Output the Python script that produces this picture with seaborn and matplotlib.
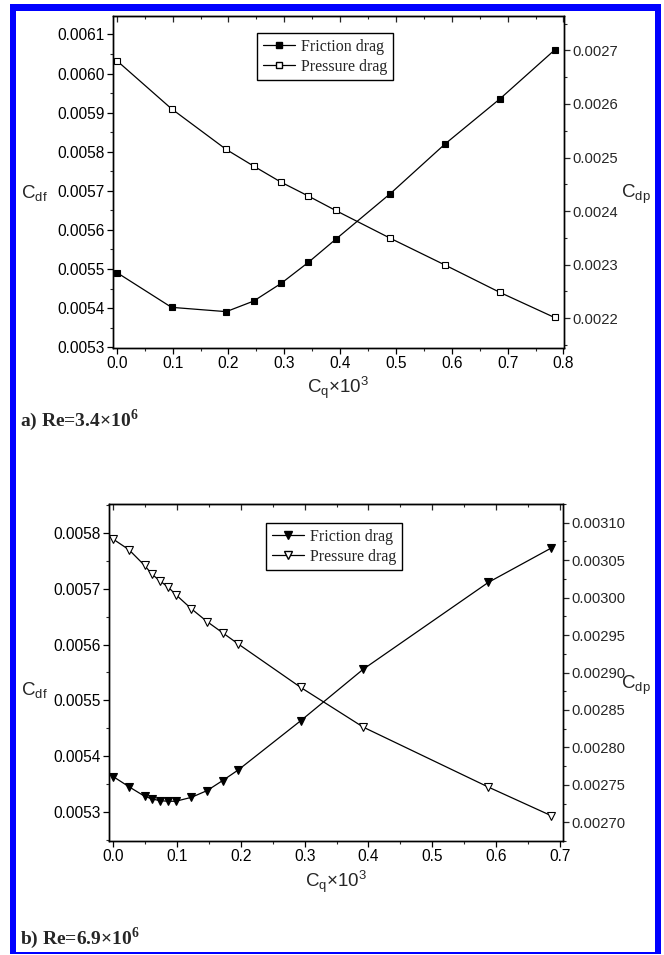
import matplotlib
matplotlib.use("Agg")
import matplotlib.pyplot as plt
from matplotlib.patches import Rectangle
from matplotlib.ticker import MultipleLocator, AutoMinorLocator, FormatStrFormatter
from matplotlib.lines import Line2D
import seaborn as sns
import pandas as pd

# ---- data: (a) Re = 3.4e6 ----
cq_a = [0.0, 0.098, 0.196, 0.245, 0.294, 0.343, 0.392, 0.490, 0.588, 0.686, 0.784]
cdf_a = [0.005491, 0.005402, 0.005391, 0.005418, 0.005463, 0.005517,
         0.005576, 0.005693, 0.005820, 0.005935, 0.006060]
cdp_a = [0.002681, 0.002591, 0.002515, 0.002484, 0.002454, 0.002428,
         0.002401, 0.002349, 0.002299, 0.002248, 0.002201]

# ---- data: (b) Re = 6.9e6 ----
cq_b = [0.0, 0.0245, 0.049, 0.061, 0.0735, 0.086, 0.098, 0.1225, 0.147,
        0.1715, 0.196, 0.294, 0.392, 0.588, 0.686]
cdf_b = [0.005364, 0.005346, 0.005329, 0.005324, 0.005321, 0.005320, 0.005320,
         0.005327, 0.005339, 0.005357, 0.005376, 0.005464, 0.005556, 0.005711, 0.005772]
cdp_b = [0.003078, 0.003064, 0.003043, 0.003031, 0.003022, 0.003014, 0.003004,
         0.002985, 0.002968, 0.002953, 0.002938, 0.002880, 0.002827, 0.002747, 0.002709]

legend_labels = ["Friction drag", "Pressure drag"]
panel_titles = [r"a) Re=3.4×10$^{\mathbf{6}}$", r"b) Re=6.9×10$^{\mathbf{6}}$"]

sns.set_style("ticks")
plt.rcParams["font.family"] = ["Liberation Sans", "DejaVu Sans"]
plt.rcParams["mathtext.fontset"] = "custom"
plt.rcParams["mathtext.rm"] = "Liberation Sans"
plt.rcParams["mathtext.it"] = "Liberation Sans"
plt.rcParams["mathtext.bf"] = "Liberation Serif:bold"

W, H = 664, 955
fig = plt.figure(figsize=(W / 100, H / 100), dpi=100)
fig.patch.set_facecolor("white")

# blue page frame
fig.patches.append(Rectangle((10 / W, 1 - 954 / H), 651 / W, 950 / H,
                             transform=fig.transFigure, facecolor="#0000ff",
                             edgecolor="none", zorder=-10))
fig.patches.append(Rectangle((16 / W, 1 - 952 / H), 639 / W, 941 / H,
                             transform=fig.transFigure, facecolor="white",
                             edgecolor="none", zorder=-9))


def px_box(l, t, r, b):
    return [l / W, 1 - b / H, (r - l) / W, (b - t) / H]


def draw_panel(rect, cq, cdf, cdp, marker_f, marker_p, msize, xlim, ylim_l, ylim_r,
               lstep, rstep, rfmt, leg_anchor, cdf_y, cdp_y, xlab_y,
               title, title_y):
    ax = fig.add_axes(rect)
    ax2 = ax.twinx()
    df = pd.DataFrame({"cq": cq, "cdf": cdf, "cdp": cdp})

    sns.lineplot(data=df, x="cq", y="cdf", ax=ax, color="black", linewidth=0.9,
                 marker=marker_f, markersize=msize, markerfacecolor="black",
                 markeredgecolor="black", markeredgewidth=0.8, sort=False,
                 errorbar=None)
    sns.lineplot(data=df, x="cq", y="cdp", ax=ax2, color="black", linewidth=0.9,
                 marker=marker_p, markersize=msize, markerfacecolor="white",
                 markeredgecolor="black", markeredgewidth=0.8, sort=False,
                 errorbar=None)

    ax.set_xlim(*xlim)
    ax.set_ylim(*ylim_l)
    ax2.set_ylim(*ylim_r)

    ax.xaxis.set_major_locator(MultipleLocator(0.1))
    ax.xaxis.set_minor_locator(AutoMinorLocator(2))
    ax.xaxis.set_major_formatter(FormatStrFormatter("%.1f"))
    ax.yaxis.set_major_locator(MultipleLocator(lstep))
    ax.yaxis.set_minor_locator(AutoMinorLocator(2))
    ax.yaxis.set_major_formatter(FormatStrFormatter("%.4f"))
    ax2.yaxis.set_major_locator(MultipleLocator(rstep))
    ax2.yaxis.set_minor_locator(AutoMinorLocator(2))
    ax2.yaxis.set_major_formatter(FormatStrFormatter(rfmt))

    for a in (ax, ax2):
        for s in a.spines.values():
            s.set_linewidth(1.0)
            s.set_color("black")
            s.set_visible(True)
    ax.tick_params(axis="both", which="major", direction="out", length=4,
                   width=0.9, labelsize=11.2, colors="black", pad=2)
    ax.tick_params(axis="both", which="minor", direction="out", length=2.5,
                   width=0.8)
    ax2.tick_params(axis="y", which="major", direction="out", length=4,
                    width=0.9, labelsize=10.6, pad=2)
    ax2.tick_params(axis="y", which="minor", direction="out", length=2.5,
                    width=0.8)

    top = ax.secondary_xaxis("top")
    top.xaxis.set_major_locator(MultipleLocator(0.1))
    top.xaxis.set_minor_locator(AutoMinorLocator(2))
    top.tick_params(which="major", direction="in", length=4, width=0.9,
                    labeltop=False)
    top.tick_params(which="minor", direction="in", length=2.5, width=0.8)

    ax.set_xlabel("")
    ax.set_ylabel("")
    ax2.set_ylabel("")

    fig.text(21 / W, 1 - cdf_y / H, r"$\mathregular{C_{df}}$", fontsize=13.5,
             ha="left", va="center")
    fig.text(621 / W, 1 - cdp_y / H, r"$\mathregular{C_{dp}}$", fontsize=13.5,
             ha="left", va="center")
    fig.text((rect[0] + rect[2] / 2), 1 - xlab_y / H,
             r"$\mathregular{C_q}$" + "×" + r"$\mathregular{10^3}$",
             fontsize=13.5, ha="center", va="center")
    fig.text(20 / W, 1 - title_y / H, title, fontsize=14, fontweight="bold",
             family=["Liberation Serif", "DejaVu Serif"], ha="left", va="center")

    handles = [
        Line2D([], [], color="black", linewidth=0.9, marker=marker_f,
               markersize=msize, markerfacecolor="black", markeredgecolor="black"),
        Line2D([], [], color="black", linewidth=0.9, marker=marker_p,
               markersize=msize, markerfacecolor="white", markeredgecolor="black"),
    ]
    leg = ax.legend(handles, legend_labels, loc="upper left",
                    bbox_to_anchor=leg_anchor, bbox_transform=fig.transFigure,
                    frameon=True, fancybox=False, framealpha=1, edgecolor="black",
                    handlelength=2.0, handletextpad=0.4, borderpad=0.35,
                    labelspacing=0.25, borderaxespad=0,
                    prop={"family": ["Liberation Serif", "DejaVu Serif"],
                          "size": 11.5})
    leg.get_frame().set_linewidth(1.0)
    leg.set_zorder(10)
    ax.set_zorder(ax2.get_zorder() + 1)
    ax.patch.set_visible(False)
    return ax, ax2


draw_panel(px_box(112.7, 15.7, 564, 348), cq_a, cdf_a, cdp_a, "s", "s", 4.2,
           (-0.0074, 0.801), (0.005298, 0.006148), (0.002144, 0.002765),
           0.0001, 0.0001, "%.4f", (257 / W, 1 - 33 / H), 193, 194, 388,
           panel_titles[0], 420)

draw_panel(px_box(109, 504, 563, 841), cq_b, cdf_b, cdp_b, "v", "v", 5.5,
           (-0.0067, 0.705), (0.005249, 0.005851), (0.002675, 0.003125),
           0.0001, 0.00005, "%.5f", (266 / W, 1 - 523 / H), 690, 685, 882,
           panel_titles[1], 938)

fig.savefig("out.png", dpi=100, facecolor=fig.get_facecolor())
